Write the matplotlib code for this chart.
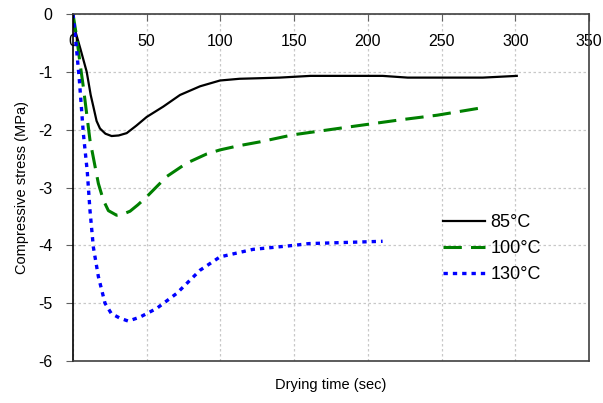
import numpy as np
import matplotlib.pyplot as plt

plt.rcParams.update({
    'font.family': ['Liberation Sans', 'DejaVu Sans'],
    'font.size': 11,
    'axes.unicode_minus': False,
})

# ---- data ----
t_85 = [0, 1.4, 5, 9.3, 12, 13.8, 16, 18.3, 22, 26.2, 31, 36.4, 43, 50, 61.3,
        72.6, 86.2, 99.7, 113, 127, 140, 161, 190, 210, 227, 250, 278, 301]
s_85 = [-0.1, -0.28, -0.6, -1.0, -1.4, -1.6, -1.85, -1.98, -2.07, -2.11,
        -2.10, -2.06, -1.93, -1.78, -1.6, -1.40, -1.25, -1.15, -1.12, -1.11,
        -1.10, -1.07, -1.07, -1.07, -1.10, -1.10, -1.10, -1.07]

t_100 = [0, 2.5, 4.75, 7, 11.5, 17.2, 20.6, 24, 29.6, 34, 38.7, 44, 50, 63.6,
         77, 90.7, 99.7, 112, 127, 149, 188, 222, 247, 280]
s_100 = [0, -0.4, -0.85, -1.26, -2.18, -2.93, -3.22, -3.40, -3.48, -3.46,
         -3.41, -3.30, -3.16, -2.81, -2.58, -2.42, -2.35, -2.28, -2.21, -2.09,
         -1.95, -1.83, -1.75, -1.61]

t_130 = [0, 2, 4.3, 7, 9.7, 11.5, 13.8, 17.2, 21.7, 26, 31.9, 37.5, 45.5, 56.8,
         70.4, 86.2, 99.7, 122, 150, 160, 185, 210]
s_130 = [0, -0.5, -1.14, -2.06, -2.73, -3.39, -4.03, -4.54, -5.0, -5.18,
         -5.26, -5.31, -5.24, -5.09, -4.83, -4.43, -4.2, -4.07, -4.0, -3.97,
         -3.95, -3.93]

labels = ['85°C', '100°C', '130°C']

fig = plt.figure(figsize=(6.03, 4.03), dpi=100)
ax = fig.add_axes([73 / 603, 1 - 361 / 403, 516 / 603, 347 / 403])

ax.plot(t_85, s_85, color='black', lw=1.6, label=labels[0])
ax.plot(t_100, s_100, color='#008000', lw=2.2, dashes=(6, 3), label=labels[1])
ax.plot(t_130, s_130, color='#0000ff', lw=2.4, dashes=(1.3, 1.5), label=labels[2])

ax.set_xlim(0, 350)
ax.set_ylim(-6, 0)
ax.set_xticks(np.arange(0, 351, 50))
ax.set_yticks(np.arange(-6, 1, 1))
ax.grid(True, color='#c8c8c8', linestyle=(0, (2, 2)), linewidth=0.9)

ax.tick_params(axis='x', top=True, bottom=False, labeltop=True,
               labelbottom=False, direction='in', length=5, pad=-25,
               labelsize=11.5, color='#606060')
ax.tick_params(axis='y', direction='out', length=5, pad=10,
               labelsize=11.5, color='#606060')
for sp in ax.spines.values():
    sp.set_color('#404040')
    sp.set_linewidth(1.2)
ax.spines['left'].set_color('black')

ax.xaxis.set_label_position('bottom')
ax.set_xlabel('Drying time (sec)', labelpad=12, fontsize=10.5)
ax.set_ylabel('Compressive stress (MPa)', labelpad=6, fontsize=10.5)

ax.legend(loc='upper left', bbox_to_anchor=(0.686, 0.47), frameon=False,
          fontsize=13, handlelength=2.3, handletextpad=0.3, labelspacing=0.5)

plt.savefig('out.png', dpi=100)
